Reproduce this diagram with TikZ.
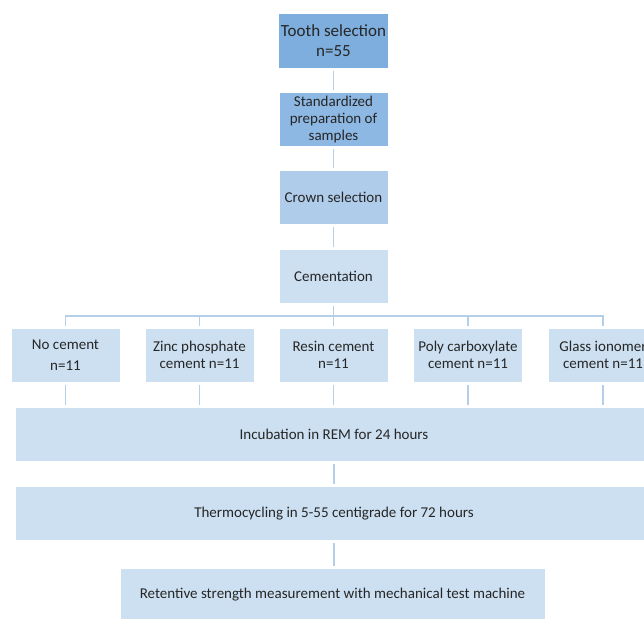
\documentclass[tikz,border=0pt]{standalone}
\usepackage{fontspec}
\setmainfont{Carlito}
\definecolor{boxdark}{HTML}{7EAEDD}
\definecolor{boxmid}{HTML}{8DB8E3}
\definecolor{boxlight}{HTML}{AFCCEA}
\definecolor{boxpale}{HTML}{CCE0F2}
\definecolor{linec}{HTML}{B5CFEA}
\tikzset{
  base/.style={draw=white, line width=1pt, minimum width=109pt, minimum height=54pt, inner sep=2pt, align=center, text=black!85, font=\fontsize{15}{16.5}\selectfont},
  darkbox/.style={base, fill=boxdark, font=\fontsize{17}{20}\selectfont},
  midbox/.style={base, fill=boxmid, font=\fontsize{15}{17}\selectfont},
  lightbox/.style={base, fill=boxlight},
  palebox/.style={base, fill=boxpale},
  widebox/.style={base, fill=boxpale, minimum width=638pt},
  conn/.style={draw=linec, line width=1.8pt, shorten <=2pt, shorten >=2pt}
}
\begin{document}
\begin{tikzpicture}[x=1pt,y=-1pt]
\useasboundingbox (0,0) rectangle (644,618);
\clip (0,0) rectangle (644,618);
\coordinate (tc) at (333.5,41);
\coordinate (pc) at (333.5,119);
\coordinate (cc) at (333.5,197.5);
\coordinate (mc) at (333.5,276.5);
\coordinate (bus) at (333.5,316);
\node[darkbox] (tooth) at (tc) {Tooth selection\\n=55};
\node[midbox] (prep) at (pc) {Standardized\\preparation of\\samples};
\node[lightbox] (crown) at (cc) {Crown selection};
\node[palebox] (cem) at (mc) {Cementation};
\node[palebox] (r1) at (65.5,355) {No cement\\[4pt]n=11};
\node[palebox] (r2) at (199.5,355) {Zinc phosphate\\cement n=11};
\node[palebox] (r3) at (333.5,355) {Resin cement\\n=11};
\node[palebox] (r4) at (468,355) {Poly carboxylate\\cement n=11};
\node[palebox] (r5) at (603,355) {Glass ionomer\\cement n=11};
\node[widebox] (inc) at (334,434) {Incubation in REM for 24 hours};
\node[widebox] (thermo) at (334,513.5) {Thermocycling in 5-55 centigrade for 72 hours};
\node[palebox, minimum width=425pt] (ret) at (332.5,595) {Retentive strength measurement with mechanical test machine};
\draw[conn] (tooth.south) -- (prep.north);
\draw[conn] (prep.south) -- (crown.north);
\draw[conn] (crown.south) -- (cem.north);
\draw[conn] (cem.south) -- (r3.north);
\draw[conn] (r1.north) |- (bus) -| (r5.north);
\draw[conn, shorten >=0pt] (r2.north) -- (r2.north |- bus);
\draw[conn, shorten >=0pt] (r4.north) -- (r4.north |- bus);
\foreach \r in {r1,r2,r3,r4,r5}{
  \draw[conn] (\r.south) -- (\r.south |- inc.north);
}
\draw[conn] (inc.south) -- (thermo.north);
\draw[conn] (thermo.south) -- (thermo.south |- ret.north);
\end{tikzpicture}
\end{document}
